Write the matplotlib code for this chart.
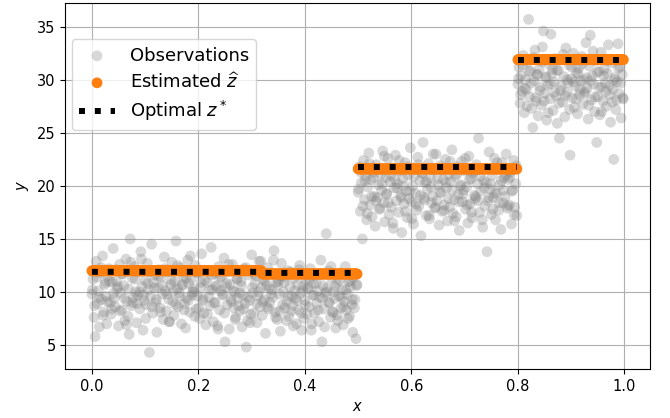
import numpy as np
import matplotlib
matplotlib.use("Agg")
import matplotlib.pyplot as plt

# observations, first piece (x from 0 to 0.5)
obs_x1 = [
    0.000, 0.002, 0.004, 0.006, 0.008, 0.010, 0.012, 0.014, 0.016, 0.018,
    0.020, 0.022, 0.024, 0.026, 0.028, 0.030, 0.032, 0.034, 0.036, 0.038,
    0.040, 0.042, 0.044, 0.046, 0.048, 0.050, 0.052, 0.054, 0.056, 0.058,
    0.060, 0.062, 0.064, 0.066, 0.068, 0.070, 0.072, 0.074, 0.076, 0.078,
    0.080, 0.082, 0.084, 0.086, 0.088, 0.090, 0.092, 0.094, 0.096, 0.098,
    0.100, 0.102, 0.104, 0.106, 0.108, 0.110, 0.112, 0.114, 0.116, 0.118,
    0.120, 0.122, 0.124, 0.126, 0.128, 0.130, 0.132, 0.134, 0.136, 0.138,
    0.140, 0.142, 0.144, 0.146, 0.148, 0.150, 0.152, 0.154, 0.156, 0.158,
    0.160, 0.162, 0.164, 0.166, 0.168, 0.170, 0.172, 0.174, 0.176, 0.178,
    0.180, 0.182, 0.184, 0.186, 0.188, 0.190, 0.192, 0.194, 0.196, 0.198,
    0.200, 0.202, 0.204, 0.206, 0.208, 0.210, 0.212, 0.214, 0.216, 0.218,
    0.220, 0.222, 0.224, 0.226, 0.228, 0.230, 0.232, 0.234, 0.236, 0.238,
    0.240, 0.242, 0.244, 0.246, 0.248, 0.250, 0.252, 0.254, 0.256, 0.258,
    0.260, 0.262, 0.264, 0.266, 0.268, 0.270, 0.272, 0.274, 0.276, 0.278,
    0.280, 0.282, 0.284, 0.286, 0.288, 0.290, 0.292, 0.294, 0.296, 0.298,
    0.300, 0.302, 0.304, 0.306, 0.308, 0.310, 0.312, 0.314, 0.316, 0.318,
    0.320, 0.322, 0.324, 0.326, 0.328, 0.330, 0.332, 0.334, 0.336, 0.338,
    0.340, 0.342, 0.344, 0.346, 0.348, 0.350, 0.352, 0.354, 0.356, 0.358,
    0.360, 0.362, 0.364, 0.366, 0.368, 0.370, 0.372, 0.374, 0.376, 0.378,
    0.380, 0.382, 0.384, 0.386, 0.388, 0.390, 0.392, 0.394, 0.396, 0.398,
    0.400, 0.402, 0.404, 0.406, 0.408, 0.410, 0.412, 0.414, 0.416, 0.418,
    0.420, 0.422, 0.424, 0.426, 0.428, 0.430, 0.432, 0.434, 0.436, 0.438,
    0.440, 0.442, 0.444, 0.446, 0.448, 0.450, 0.452, 0.454, 0.456, 0.458,
    0.460, 0.462, 0.464, 0.466, 0.468, 0.470, 0.472, 0.474, 0.476, 0.478,
    0.480, 0.482, 0.484, 0.486, 0.488, 0.490, 0.492, 0.494, 0.496, 0.498,
    0.001, 0.005, 0.009, 0.013, 0.017, 0.021, 0.025, 0.029, 0.033, 0.037,
    0.041, 0.045, 0.049, 0.053, 0.057, 0.061, 0.065, 0.069, 0.073, 0.077,
    0.081, 0.085, 0.089, 0.093, 0.097, 0.101, 0.105, 0.109, 0.113, 0.117,
    0.121, 0.125, 0.129, 0.133, 0.137, 0.141, 0.145, 0.149, 0.153, 0.157,
    0.161, 0.165, 0.169, 0.173, 0.177, 0.181, 0.185, 0.189, 0.193, 0.197,
    0.201, 0.205, 0.209, 0.213, 0.217, 0.221, 0.225, 0.229, 0.233, 0.237,
    0.241, 0.245, 0.249, 0.253, 0.257, 0.261, 0.265, 0.269, 0.273, 0.277,
    0.281, 0.285, 0.289, 0.293, 0.297, 0.301, 0.305, 0.309, 0.313, 0.317,
    0.321, 0.325, 0.329, 0.333, 0.337, 0.341, 0.345, 0.349, 0.353, 0.357,
    0.361, 0.365, 0.369, 0.373, 0.377, 0.381, 0.385, 0.389, 0.393, 0.397,
    0.401, 0.405, 0.409, 0.413, 0.417, 0.421, 0.425, 0.429, 0.433, 0.437,
    0.441, 0.445, 0.449, 0.453, 0.457, 0.461, 0.465, 0.469, 0.473, 0.477,
    0.481, 0.485, 0.489, 0.493, 0.497,
]
obs_y1 = [
    9.8, 11.2, 7.6, 5.8, 12.9, 8.9, 10.1, 6.7, 11.8, 9.3,
    13.4, 8.1, 10.7, 9.6, 7.0, 11.5, 12.2, 9.0, 7.9, 10.9,
    14.1, 9.4, 8.6, 11.0, 10.3, 6.8, 12.6, 9.9, 8.3, 11.7,
    10.6, 7.3, 13.1, 9.1, 7.7, 6.0, 15.0, 8.7, 11.3, 9.5,
    12.4, 10.0, 7.1, 9.7, 11.9, 8.4, 13.8, 10.5, 6.4, 9.2,
    11.1, 8.8, 12.7, 10.2, 4.3, 9.6, 14.5, 8.0, 10.9, 11.6,
    9.0, 6.2, 10.4, 12.1, 8.5, 11.4, 9.8, 7.4, 13.3, 10.1,
    8.2, 11.9, 9.3, 7.2, 10.7, 12.8, 9.1, 7.8, 11.0, 14.8,
    10.3, 8.6, 9.9, 12.3, 7.0, 10.6, 11.5, 8.9, 6.6, 9.4,
    13.0, 10.8, 8.1, 11.2, 9.7, 10.3, 10.0, 12.5, 8.4, 9.6,
    11.8, 7.5, 10.4, 13.6, 9.2, 8.0, 11.1, 6.9, 10.9, 12.0,
    9.5, 8.7, 14.2, 10.2, 7.2, 11.7, 9.0, 10.6, 6.8, 12.4,
    8.3, 10.1, 11.4, 9.8, 13.2, 5.3, 10.5, 8.8, 11.9, 6.5,
    10.7, 9.1, 12.6, 8.5, 10.0, 7.6, 11.3, 9.4, 8.7, 8.2,
    11.0, 6.7, 9.7, 12.2, 8.9, 4.8, 7.3, 11.6, 9.2, 7.9,
    13.5, 9.9, 8.0, 10.8, 11.5, 7.1, 9.6, 12.9, 8.6, 10.4,
    7.8, 11.2, 9.3, 6.1, 10.6, 12.3, 8.4, 9.0, 11.8, 10.2,
    9.5, 13.9, 8.1, 10.9, 7.4, 11.0, 9.8, 6.3, 12.7, 8.8,
    10.0, 8.5, 11.4, 9.1, 12.0, 7.7, 10.5, 8.2, 9.6, 6.8,
    11.3, 9.4, 7.0, 10.7, 8.3, 12.5, 9.9, 6.4, 10.1, 7.5,
    9.2, 11.1, 7.9, 10.3, 8.6, 12.2, 6.4, 9.7, 10.8, 8.0,
    11.6, 8.9, 10.1, 7.2, 9.5, 13.0, 5.3, 10.6, 8.4, 9.9,
    15.5, 10.4, 12.0, 9.0, 7.6, 11.3, 8.1, 10.0, 9.4, 6.6,
    10.9, 7.3, 9.6, 11.8, 8.5, 10.2, 6.9, 9.1, 12.4, 8.3,
    9.8, 11.0, 7.7, 10.5, 8.8, 6.2, 11.4, 9.3, 5.6, 10.7,
    10.2, 8.7, 11.4, 9.5, 12.3, 7.8, 10.9, 9.1, 11.0, 8.4,
    9.9, 12.1, 10.5, 8.2, 11.7, 9.4, 6.9, 10.3, 12.8, 9.0,
    11.2, 8.9, 10.0, 13.1, 9.7, 7.5, 10.8, 11.9, 8.6, 10.4,
    9.3, 11.5, 8.1, 10.6, 12.2, 9.8, 7.2, 11.1, 10.1, 8.8,
    12.5, 9.6, 10.7, 8.3, 11.3, 9.2, 13.4, 10.0, 7.7, 11.8,
    8.5, 10.9, 9.4, 12.0, 7.9, 10.2, 11.6, 9.0, 10.5, 6.5,
    11.4, 9.7, 8.0, 10.8, 12.6, 9.3, 10.1, 7.4, 11.2, 9.9,
    10.6, 8.4, 12.3, 9.5, 7.1, 10.4, 11.7, 8.9, 10.0, 12.9,
    9.1, 11.0, 8.6, 10.3, 9.8, 13.0, 7.6, 10.7, 8.2, 11.5,
    10.9, 7.3, 9.6, 11.9, 8.7, 10.1, 9.2, 12.1, 8.0, 10.6,
    8.8, 10.4, 11.3, 7.0, 9.7, 10.8, 8.3, 11.6, 9.4, 6.7,
    10.0, 9.0, 12.4, 8.1, 10.5, 7.8, 11.1, 9.5, 8.6, 10.2,
    7.5, 11.0, 9.3, 8.5, 10.6,
]

# observations, second piece (x from 0.5 to 0.8)
obs_x2 = [
    0.500, 0.502, 0.504, 0.506, 0.508, 0.510, 0.512, 0.514, 0.516, 0.518,
    0.520, 0.522, 0.524, 0.526, 0.528, 0.530, 0.532, 0.534, 0.536, 0.538,
    0.540, 0.542, 0.544, 0.546, 0.548, 0.550, 0.552, 0.554, 0.556, 0.558,
    0.560, 0.562, 0.564, 0.566, 0.568, 0.570, 0.572, 0.574, 0.576, 0.578,
    0.580, 0.582, 0.584, 0.586, 0.588, 0.590, 0.592, 0.594, 0.596, 0.598,
    0.600, 0.602, 0.604, 0.606, 0.608, 0.610, 0.612, 0.614, 0.616, 0.618,
    0.620, 0.622, 0.624, 0.626, 0.628, 0.630, 0.632, 0.634, 0.636, 0.638,
    0.640, 0.642, 0.644, 0.646, 0.648, 0.650, 0.652, 0.654, 0.656, 0.658,
    0.660, 0.662, 0.664, 0.666, 0.668, 0.670, 0.672, 0.674, 0.676, 0.678,
    0.680, 0.682, 0.684, 0.686, 0.688, 0.690, 0.692, 0.694, 0.696, 0.698,
    0.700, 0.702, 0.704, 0.706, 0.708, 0.710, 0.712, 0.714, 0.716, 0.718,
    0.720, 0.722, 0.724, 0.726, 0.728, 0.730, 0.732, 0.734, 0.736, 0.738,
    0.740, 0.742, 0.744, 0.746, 0.748, 0.750, 0.752, 0.754, 0.756, 0.758,
    0.760, 0.762, 0.764, 0.766, 0.768, 0.770, 0.772, 0.774, 0.776, 0.778,
    0.780, 0.782, 0.784, 0.786, 0.788, 0.790, 0.792, 0.794, 0.796, 0.798,
    0.501, 0.505, 0.509, 0.513, 0.517, 0.521, 0.525, 0.529, 0.533, 0.537,
    0.541, 0.545, 0.549, 0.553, 0.557, 0.561, 0.565, 0.569, 0.573, 0.577,
    0.581, 0.585, 0.589, 0.593, 0.597, 0.601, 0.605, 0.609, 0.613, 0.617,
    0.621, 0.625, 0.629, 0.633, 0.637, 0.641, 0.645, 0.649, 0.653, 0.657,
    0.661, 0.665, 0.669, 0.673, 0.677, 0.681, 0.685, 0.689, 0.693, 0.697,
    0.701, 0.705, 0.709, 0.713, 0.717, 0.721, 0.725, 0.729, 0.733, 0.737,
    0.741, 0.745, 0.749, 0.753, 0.757, 0.761, 0.765, 0.769, 0.773, 0.777,
    0.781, 0.785, 0.789, 0.793, 0.797,
]
obs_y2 = [
    19.4, 21.8, 17.6, 20.3, 15.0, 22.4, 18.7, 20.9, 16.8, 19.9,
    23.1, 18.2, 20.6, 17.1, 21.3, 19.0, 16.2, 22.0, 18.9, 20.1,
    17.8, 21.1, 19.6, 23.3, 18.4, 16.6, 20.8, 19.2, 22.6, 17.3,
    20.4, 18.0, 21.7, 16.0, 19.8, 22.9, 18.6, 20.2, 17.5, 21.4,
    19.1, 15.6, 20.7, 18.3, 22.2, 19.5, 17.0, 21.0, 18.8, 23.6,
    18.5, 20.0, 16.4, 21.6, 19.3, 17.7, 22.7, 18.1, 20.5, 15.3,
    21.2, 24.1, 18.9, 20.3, 17.2, 19.7, 22.1, 16.9, 20.8, 18.4,
    19.0, 21.5, 17.9, 23.0, 18.6, 20.1, 16.3, 21.9, 19.4, 17.6,
    20.6, 18.2, 22.5, 19.8, 16.7, 21.1, 18.0, 20.4, 23.4, 17.4,
    18.7, 20.9, 17.1, 21.8, 19.2, 15.8, 20.0, 22.3, 18.5, 19.6,
    21.4, 17.8, 19.9, 16.5, 22.8, 18.3, 20.7, 17.0, 21.2, 19.1,
    18.8, 22.0, 20.2, 24.5, 17.5, 19.5, 21.6, 16.1, 20.5, 18.1,
    20.3, 13.8, 18.6, 23.2, 19.7, 17.3, 21.0, 18.9, 22.6, 16.8,
    19.3, 21.7, 17.7, 20.1, 15.9, 22.2, 18.4, 20.8, 19.0, 23.0,
    17.9, 20.6, 18.2, 21.3, 16.4, 19.6, 22.4, 18.0, 20.2, 17.2,
    19.7, 21.3, 18.1, 20.5, 17.4, 22.1, 19.0, 20.8, 18.6, 21.6,
    17.9, 20.2, 22.8, 19.3, 18.4, 21.0, 16.5, 20.6, 19.8, 22.4,
    18.9, 20.0, 17.6, 21.8, 19.5, 16.9, 20.9, 18.3, 22.0, 19.1,
    21.2, 18.7, 20.4, 17.2, 19.9, 23.0, 18.0, 20.7, 19.4, 21.5,
    17.7, 20.3, 18.8, 22.3, 19.6, 16.7, 21.1, 18.5, 20.1, 19.2,
    22.6, 18.2, 20.6, 17.5, 21.4, 19.0, 18.6, 20.9, 16.8, 19.8,
    21.7, 18.9, 20.2, 17.8, 19.3, 22.2, 18.4, 20.5, 19.6, 21.0,
    18.1, 20.8, 19.5, 17.3, 21.9,
]

# observations, third piece (x from 0.8 to 1.0)
obs_x3 = [
    0.800, 0.802, 0.804, 0.806, 0.808, 0.810, 0.812, 0.814, 0.816, 0.818,
    0.820, 0.822, 0.824, 0.826, 0.828, 0.830, 0.832, 0.834, 0.836, 0.838,
    0.840, 0.842, 0.844, 0.846, 0.848, 0.850, 0.852, 0.854, 0.856, 0.858,
    0.860, 0.862, 0.864, 0.866, 0.868, 0.870, 0.872, 0.874, 0.876, 0.878,
    0.880, 0.882, 0.884, 0.886, 0.888, 0.890, 0.892, 0.894, 0.896, 0.898,
    0.900, 0.902, 0.904, 0.906, 0.908, 0.910, 0.912, 0.914, 0.916, 0.918,
    0.920, 0.922, 0.924, 0.926, 0.928, 0.930, 0.932, 0.934, 0.936, 0.938,
    0.940, 0.942, 0.944, 0.946, 0.948, 0.950, 0.952, 0.954, 0.956, 0.958,
    0.960, 0.962, 0.964, 0.966, 0.968, 0.970, 0.972, 0.974, 0.976, 0.978,
    0.980, 0.982, 0.984, 0.986, 0.988, 0.990, 0.992, 0.994, 0.996, 0.998,
    0.801, 0.805, 0.809, 0.813, 0.817, 0.821, 0.825, 0.829, 0.833, 0.837,
    0.841, 0.845, 0.849, 0.853, 0.857, 0.861, 0.865, 0.869, 0.873, 0.877,
    0.881, 0.885, 0.889, 0.893, 0.897, 0.901, 0.905, 0.909, 0.913, 0.917,
    0.921, 0.925, 0.929, 0.933, 0.937, 0.941, 0.945, 0.949, 0.953, 0.957,
    0.961, 0.965, 0.969, 0.973, 0.977, 0.981, 0.985, 0.989, 0.993, 0.997,
]
obs_y3 = [
    29.6, 31.2, 27.8, 30.4, 28.9, 32.3, 26.9, 30.0, 29.1, 31.7,
    35.7, 28.4, 30.8, 27.3, 25.5, 29.9, 32.8, 28.0, 30.5, 26.6,
    31.0, 29.3, 27.6, 33.1, 34.6, 28.7, 30.2, 26.2, 29.5, 31.5,
    28.2, 34.3, 30.6, 27.1, 29.8, 32.0, 28.5, 25.9, 30.9, 24.5,
    29.0, 31.9, 27.9, 30.3, 26.5, 33.0, 28.8, 29.7, 31.4, 22.9,
    30.1, 28.3, 32.5, 27.4, 29.4, 30.7, 26.8, 31.1, 28.6, 29.9,
    32.2, 27.7, 30.0, 28.9, 33.5, 29.2, 26.3, 31.3, 34.2, 28.1,
    30.4, 29.6, 27.0, 31.8, 24.1, 28.4, 30.8, 26.7, 32.6, 29.3,
    28.0, 31.0, 29.7, 27.5, 30.6, 33.3, 28.6, 26.0, 31.6, 29.1,
    22.5, 30.2, 27.2, 29.8, 33.4, 28.7, 31.2, 26.4, 30.5, 28.2,
    30.1, 28.6, 31.4, 29.2, 27.5, 30.8, 29.7, 32.1, 28.3, 30.5,
    29.0, 31.7, 28.0, 30.3, 26.9, 29.6, 31.0, 28.8, 30.9, 27.8,
    29.4, 32.4, 28.5, 30.0, 27.2, 31.2, 29.8, 28.2, 30.6, 29.1,
    31.5, 28.7, 30.2, 27.6, 29.9, 32.7, 28.4, 30.7, 29.3, 27.0,
    30.4, 28.9, 31.8, 29.5, 27.9, 30.0, 28.1, 31.1, 29.7, 28.3,
]

# piecewise constant levels
breaks = [0.0, 0.32, 0.5, 0.8, 1.0]
est_levels = [12.0, 11.7, 21.6, 31.9]
opt_levels = [11.9, 11.8, 21.8, 31.9]


def piecewise(x, levels):
    idx = np.clip(np.searchsorted(breaks, x, side='right') - 1, 0, len(levels) - 1)
    return np.asarray(levels)[idx]


pieces = []
for px, py in [(obs_x1, obs_y1), (obs_x2, obs_y2), (obs_x3, obs_y3)]:
    order = np.argsort(px)
    pieces.append((np.array(px)[order], np.array(py)[order]))
x_all = np.concatenate([p[0] for p in pieces])
y_all = np.concatenate([p[1] for p in pieces])

fig = plt.figure(figsize=(6.7, 4.18), dpi=100)
ax = fig.add_axes([0.0975, 0.117, 0.8725, 0.8765])
ax.set_axisbelow(True)
ax.grid(True)

ax.scatter(x_all, y_all, s=60, color='gray', alpha=0.3, edgecolors='none',
           label='Observations')
ax.scatter(x_all, piecewise(x_all, est_levels), s=60, color='tab:orange',
           edgecolors='none', label=r'Estimated $\widehat{z}$')
for i, (px, _) in enumerate(pieces):
    ax.plot(px, piecewise(px, opt_levels), ':', color='black', lw=4.3,
            label=r'Optimal $z^*$' if i == 0 else None)

ax.tick_params(labelsize=10.5)
ax.set_xlabel('$x$', fontsize=10.5)
ax.set_ylabel('$y$', fontsize=10.5)
ax.legend(loc='upper left', bbox_to_anchor=(0.011, 0.9), borderaxespad=0,
          fontsize=13, labelspacing=0.4)

fig.savefig('out.png', dpi=100)
